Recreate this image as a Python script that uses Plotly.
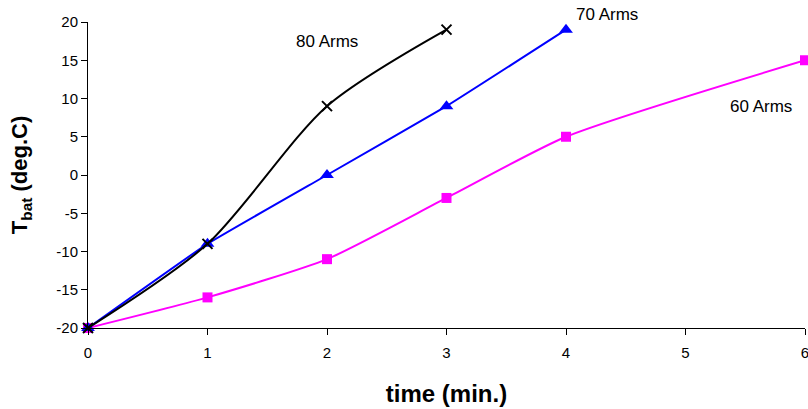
import plotly.graph_objects as go

time_60 = [0, 1, 2, 3, 4, 6]
temp_60 = [-20, -16, -11, -3, 5, 15]
time_70 = [0, 1, 2, 3, 4]
temp_70 = [-20, -9, 0, 9, 19]
time_80 = [0, 1, 2, 3]
temp_80 = [-20, -9, 9, 19]

x_ticks = [0, 1, 2, 3, 4, 5, 6]
x_ticktext = ["0", "1", "2", "3", "4", "5", "6"]
y_ticks = [-20, -15, -10, -5, 0, 5, 10, 15, 20]
y_ticktext = ["-20", "-15", "-10", "-5", "0", "5", "10", "15", "20"]

# labels positioned in paper coordinates (fractions of plot area)
labels = ["80 Arms", "70 Arms", "60 Arms"]
label_x = [0.333, 0.724, 0.939]
label_y = [0.935, 1.026, 0.725]

FONT = "Arial, Liberation Sans, sans-serif"

fig = go.Figure()
fig.add_trace(go.Scatter(x=time_60, y=temp_60, mode="lines+markers",
                         line=dict(color="#ff00ff", width=2, shape="spline", smoothing=0.6),
                         marker=dict(symbol="square", size=10, color="#ff00ff"), cliponaxis=False))
fig.add_trace(go.Scatter(x=time_70, y=temp_70, mode="lines+markers",
                         line=dict(color="#0000ff", width=2, shape="spline", smoothing=0.3),
                         marker=dict(symbol="triangle-up", size=12, color="#0000ff"), cliponaxis=False))
fig.add_trace(go.Scatter(x=time_80, y=temp_80, mode="lines+markers",
                         line=dict(color="#000000", width=2, shape="spline", smoothing=0.8),
                         marker=dict(symbol="x-thin", size=10, line=dict(color="#000000", width=2)),
                         cliponaxis=False))

for t, xx, yy in zip(labels, label_x, label_y):
    fig.add_annotation(x=xx, y=yy, xref="paper", yref="paper", text=t, showarrow=False,
                       xanchor="center", yanchor="middle",
                       font=dict(family=FONT, size=17, color="#000"))

fig.update_layout(
    width=808, height=409,
    margin=dict(l=88, r=3, t=22, b=81, autoexpand=False),
    plot_bgcolor="white", paper_bgcolor="white",
    showlegend=False,
    font=dict(family=FONT, color="#000"),
)
fig.update_xaxes(range=[0, 6], tickvals=x_ticks, ticktext=x_ticktext, automargin=False,
                 showgrid=False, zeroline=False,
                 showline=True, linecolor="#000", linewidth=1,
                 ticks="outside", ticklen=6, tickcolor="#000",
                 tickfont=dict(size=15), ticklabelstandoff=5, ticklabeloverflow="allow",
                 title=dict(text="<b>time (min.)</b>", font=dict(size=24), standoff=25))
fig.update_yaxes(range=[-20, 20], tickvals=y_ticks, ticktext=y_ticktext, automargin=False,
                 showgrid=False, zeroline=False,
                 showline=True, linecolor="#000", linewidth=1,
                 ticks="outside", ticklen=6, tickcolor="#000",
                 tickfont=dict(size=15), ticklabeloverflow="allow",
                 title=dict(text="<b>T<sub>bat</sub> (deg.C)</b>", font=dict(size=22), standoff=22))

# remove the default page margin so the figure sits at the window's top-left corner
fig.write_html("out.html", config={"displayModeBar": False},
               post_script="document.body.style.margin='0';")
